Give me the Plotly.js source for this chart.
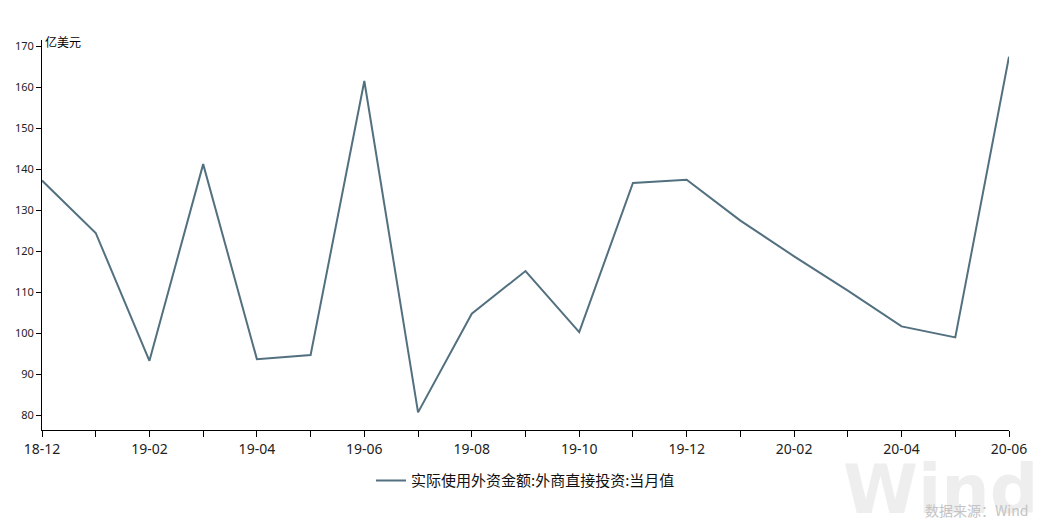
<!DOCTYPE html>
<html>
<head>
<meta charset="utf-8">
<script src="https://cdn.plot.ly/plotly-3.0.1.min.js"></script>
<style>html,body{margin:0;padding:0;background:#fff;}#chart{width:1049px;height:520px;}</style>
</head>
<body>
<div id="chart"></div>
<script>
const months = ["18-12","19-01","19-02","19-03","19-04","19-05","19-06","19-07","19-08","19-09","19-10","19-11","19-12","20-01","20-02","20-03","20-04","20-05","20-06"];
const tickLabels = ["18-12","","19-02","","19-04","","19-06","","19-08","","19-10","","19-12","","20-02","","20-04","","20-06"];
const fdiValues = [137.3,124.5,93.3,141.3,93.7,94.7,161.6,80.7,104.8,115.2,100.3,136.7,137.5,127.5,118.8,110.4,101.7,99.0,167.5];
const yTicks = [80,90,100,110,120,130,140,150,160,170];
const seriesName = "实际使用外资金额:外商直接投资:当月值";
const unitLabel = "亿美元";

const trace = {
  x: months, y: fdiValues, type: "scatter", mode: "lines", name: seriesName,
  line: {color: "#52707f", width: 2}
};
const layout = {
  width: 1049, height: 520,
  margin: {l: 42, r: 40, t: 40, b: 90},
  paper_bgcolor: "#fff", plot_bgcolor: "#fff",
  font: {family: "Noto Sans, Noto Sans CJK SC, sans-serif", color: "#222"},
  showlegend: true,
  legend: {orientation: "h", x: 0.5, xanchor: "center", y: -0.13, yanchor: "middle",
    font: {family: "Noto Sans CJK SC, sans-serif", size: 15, color: "#111"}},
  xaxis: {type: "category", range: [0, 18], tickmode: "array", tickvals: months, ticktext: tickLabels,
    showline: true, linecolor: "#000", linewidth: 1, ticks: "outside", ticklen: 6, tickcolor: "#000",
    showgrid: false, zeroline: false, tickfont: {size: 14, color: "#222"}},
  yaxis: {range: [76.4, 171.6], tickmode: "array", tickvals: yTicks,
    showline: true, linecolor: "#000", linewidth: 1, ticks: "outside", ticklen: 5, tickcolor: "#000",
    showgrid: false, zeroline: false, tickfont: {size: 11, color: "#222"}},
  annotations: [
    {text: unitLabel, xref: "paper", yref: "paper", x: 0, y: 1.0, xanchor: "left", yanchor: "bottom",
      yshift: -12, xshift: 1, showarrow: false, font: {family: "Noto Sans CJK SC, sans-serif", size: 12, color: "#000"}},
    {text: "<b>Wind</b>", xref: "paper", yref: "paper", x: 1.032, y: -0.152, xanchor: "right", yanchor: "middle",
      showarrow: false, font: {family: "DejaVu Sans, sans-serif", size: 68, color: "rgba(200,200,200,0.3)"}},
    {text: "数据来源：Wind", xref: "paper", yref: "paper", x: 1.022, y: -0.205, xanchor: "right", yanchor: "middle",
      showarrow: false, font: {family: "Noto Sans CJK SC, sans-serif", size: 14, color: "#c4c4c4"}}
  ]
};
Plotly.newPlot("chart", [trace], layout, {displayModeBar: false, staticPlot: true});
</script>
</body>
</html>
